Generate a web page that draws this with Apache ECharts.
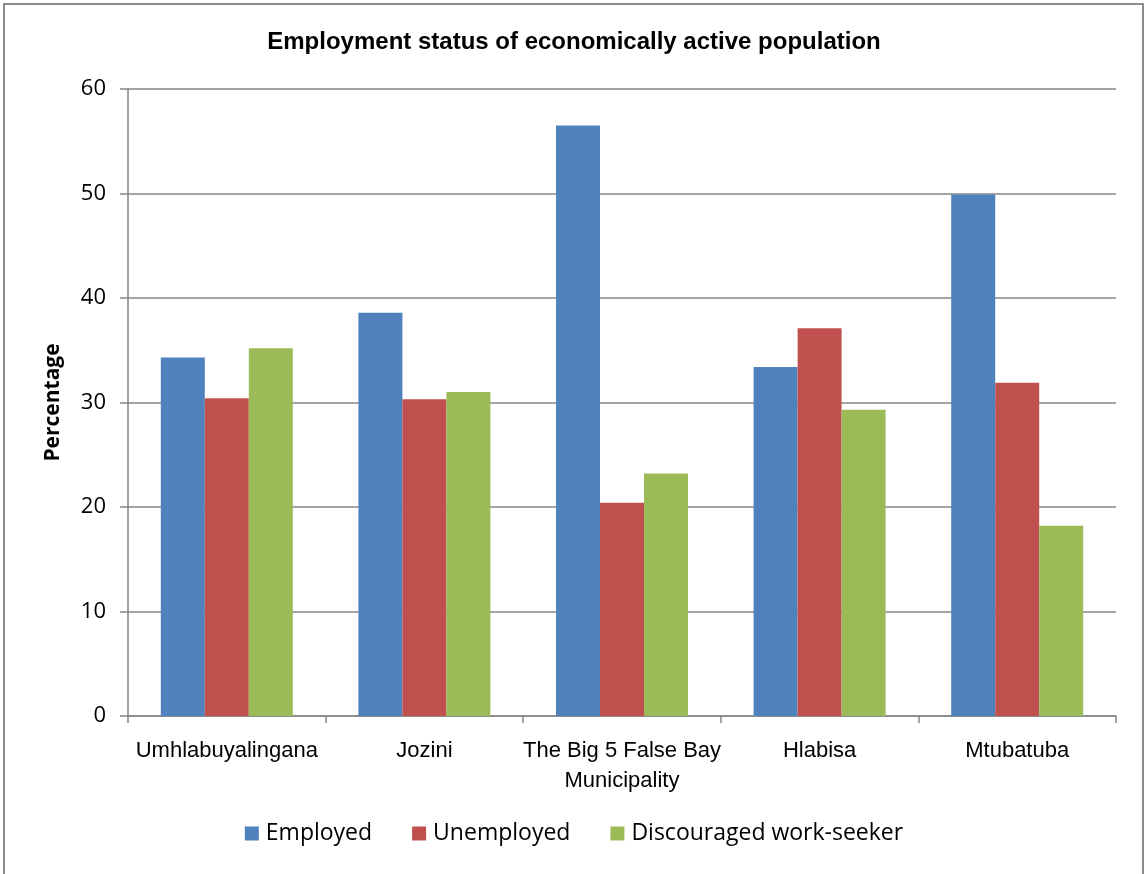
<!DOCTYPE html>
<html>
<head>
<meta charset="utf-8">
<script src="https://cdn.jsdelivr.net/npm/echarts@6/dist/echarts.min.js"></script>
<style>
  html, body { margin: 0; padding: 0; background: #fff; }
  #frame { position: absolute; left: 3px; top: 3px; width: 1141px; height: 880px; border: 2px solid #8c8c8c; box-sizing: border-box; }
  #chart { position: absolute; left: 0; top: 0; width: 1148px; height: 874px; }
</style>
</head>
<body>
<div id="frame"></div>
<div id="chart"></div>
<script>
// Municipalities and employment shares (%)
const categories = ['Umhlabuyalingana', 'Jozini', 'The Big 5 False Bay\nMunicipality', 'Hlabisa', 'Mtubatuba'];
const employed = [34.3, 38.6, 56.5, 33.4, 49.9];
const unemployed = [30.4, 30.3, 20.4, 37.1, 31.9];
const discouraged = [35.2, 31.0, 23.2, 29.3, 18.2];
const seriesNames = ['Employed', 'Unemployed', 'Discouraged work-seeker'];
const yTicks = [0, 10, 20, 30, 40, 50, 60];

const narrow = '"Liberation Sans Narrow", "Arial Narrow", "Liberation Sans", sans-serif';
const body = '"Open Sans", "Noto Sans", sans-serif';

const chart = echarts.init(document.getElementById('chart'), null, { renderer: 'canvas' });

const bar = (name, data, color) => ({
  name, type: 'bar', data,
  barWidth: 44, barGap: '0%',
  itemStyle: { color },
  emphasis: { disabled: true }
});

chart.setOption({
  animation: false,
  backgroundColor: 'transparent',
  title: {
    text: 'Employment status of economically active population',
    left: 'center', top: 25,
    textStyle: { fontFamily: narrow, fontWeight: 'bold', fontSize: 24, color: '#000' }
  },
  legend: {
    data: seriesNames,
    bottom: 24, left: 'center',
    itemWidth: 14, itemHeight: 14, itemGap: 40,
    icon: 'rect',
    textStyle: { fontFamily: body, fontSize: 23, color: '#000', padding: [0, 0, 0, 2] }
  },
  grid: { left: 128, right: 32, top: 89, bottom: 158, containLabel: false },
  xAxis: {
    type: 'category', data: categories,
    axisLine: { lineStyle: { color: '#868686', width: 1.5 } },
    axisTick: { show: true, length: 7, lineStyle: { color: '#868686', width: 1.5 } },
    axisLabel: { fontFamily: narrow, fontSize: 22, color: '#000', margin: 20, lineHeight: 30, interval: 0 }
  },
  yAxis: {
    type: 'value', min: yTicks[0], max: yTicks[yTicks.length - 1], interval: 10,
    name: 'Percentage', nameLocation: 'middle', nameGap: 64, nameRotate: 90,
    nameTextStyle: { fontFamily: body, fontWeight: 'bold', fontSize: 21, color: '#000' },
    axisLine: { show: true, lineStyle: { color: '#868686', width: 1.5 } },
    axisTick: { show: true, length: 8, lineStyle: { color: '#868686', width: 1.5 } },
    splitLine: { lineStyle: { color: '#868686', width: 1.5 } },
    axisLabel: { fontFamily: body, fontSize: 22, color: '#000', margin: 22 }
  },
  series: [
    bar(seriesNames[0], employed, '#4f81bd'),
    bar(seriesNames[1], unemployed, '#c0504d'),
    bar(seriesNames[2], discouraged, '#9bbb59')
  ]
});
</script>
</body>
</html>
